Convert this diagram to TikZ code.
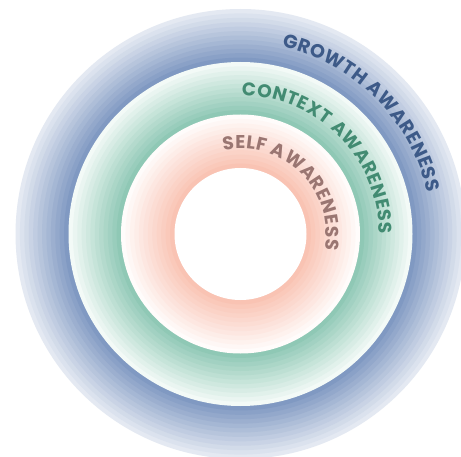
\documentclass[tikz,border=0pt]{standalone}
\usepackage{fontspec}
\setmainfont{Poppins}
\usetikzlibrary{decorations.text}
\definecolor{bdark}{HTML}{8099C2}
\definecolor{blight}{HTML}{E4E9F2}
\definecolor{gdark}{HTML}{8FC8B5}
\definecolor{glight}{HTML}{F3FAF7}
\definecolor{pdark}{HTML}{F9C3B3}
\definecolor{plight}{HTML}{FFFCFB}
\definecolor{gtext}{HTML}{3D5A88}
\definecolor{ctext}{HTML}{428B72}
\definecolor{stext}{HTML}{9A7672}
\tikzset{
  ringlabel/.style={decorate, decoration={text along path, text align={fit to path}, text color=#1}},
}
\begin{document}
\begin{tikzpicture}[x=1pt,y=1pt]
\useasboundingbox (0,0) rectangle (461,456);
\clip (0,0) rectangle (461,456);
\fill[white] (0,0) rectangle (461,456);
\coordinate (c) at (240.5,222);
% blue ring
\foreach \i in {0,...,11}{
  \pgfmathtruncatemacro\p{100*\i/11}
  \fill[color=bdark!\p!blight] (c) circle ({225-\i*53/12});
}
% green ring
\foreach \i in {0,...,11}{
  \pgfmathtruncatemacro\p{100*\i/11}
  \fill[color=gdark!\p!glight] (c) circle ({172-\i*52.5/12});
}
% pink ring
\foreach \i in {0,...,11}{
  \pgfmathtruncatemacro\p{100*\i/11}
  \fill[color=pdark!\p!plight] (c) circle ({119.5-\i*53.5/12});
}
\fill[white] (c) circle (66);
% labels
\path[ringlabel=gtext, decoration={text={|\fontsize{19}{19}\selectfont\bfseries|GROWTH AWARENESS}}]
  ([shift={(77.5:191.5)}]c) arc[start angle=77.5, end angle=12.5, radius=191.5];
\path[ringlabel=ctext, decoration={text={|\fontsize{18.5}{18.5}\selectfont\bfseries|CONTEXT AWARENESS}}]
  ([shift={(89.5:138.5)}]c) arc[start angle=89.5, end angle=0, radius=138.5];
\path[ringlabel=stext, decoration={text={|\fontsize{18.5}{18.5}\selectfont\bfseries|SELF AWARENESS}}]
  ([shift={(101.5:85.5)}]c) arc[start angle=101.5, end angle=-10.5, radius=85.5];
\end{tikzpicture}
\end{document}
